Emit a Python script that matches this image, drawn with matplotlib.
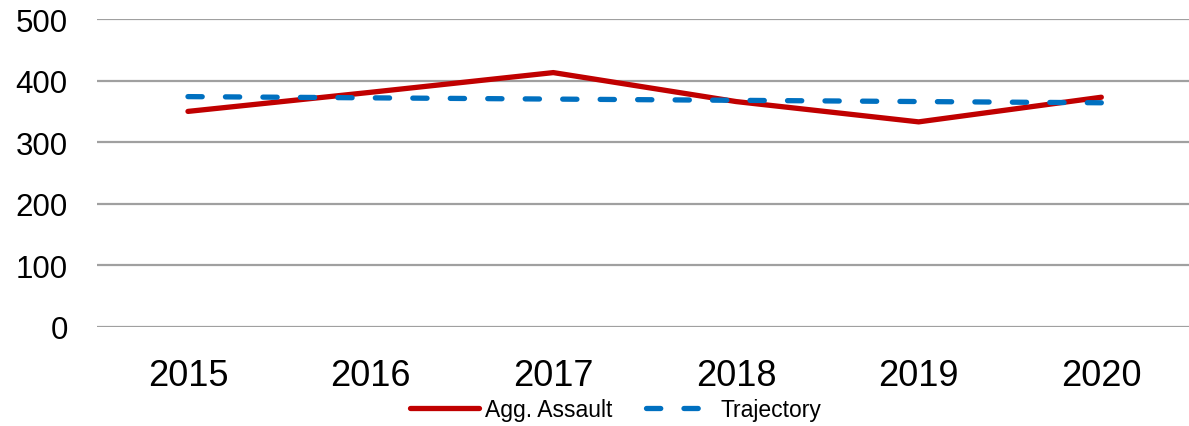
import numpy as np
import matplotlib
matplotlib.use('Agg')
from matplotlib import pyplot as plt

plt.rcParams['font.family'] = ['Liberation Sans', 'DejaVu Sans']

# values
years = ['2015', '2016', '2017', '2018', '2019', '2020']
agg_assault = [350, 381, 413, 366, 333, 373]
trajectory = [374, 372, 370, 368, 366, 364]

fig = plt.figure(figsize=(11.89, 4.27), dpi=100)
ax = fig.add_axes([97/1189, 1 - 328/427, 1 - 97/1189, (328 - 20)/427])

x = np.arange(len(years))
ax.plot(x, agg_assault, color='#c00000', lw=3.8, solid_capstyle='round',
        label='Agg. Assault', zorder=3)
ax.plot(x, trajectory, color='#0070c0', lw=3.8, dashes=(2.7, 4.4),
        dash_capstyle='round', label='Trajectory', zorder=3)

ax.set_xlim(-0.498, 5.48)
ax.set_ylim(0, 500)
ax.set_yticks(range(0, 501, 100))
ax.set_xticks(x)
ax.set_xticklabels(years)
ax.grid(axis='y', color='#a0a0a0', lw=1.6, zorder=0)
ax.set_axisbelow(True)
for s in ax.spines.values():
    s.set_visible(False)
ax.tick_params(axis='y', length=0, pad=21, labelsize=22.5)
ax.tick_params(axis='x', length=0, pad=22, labelsize=26)

fig.legend(loc='center', bbox_to_anchor=(616/1189, 1 - 411/427), ncol=2,
           frameon=False, fontsize=16.5, handlelength=3.0, columnspacing=1.5,
           handletextpad=0.25)

fig.savefig('out.png', dpi=100)
